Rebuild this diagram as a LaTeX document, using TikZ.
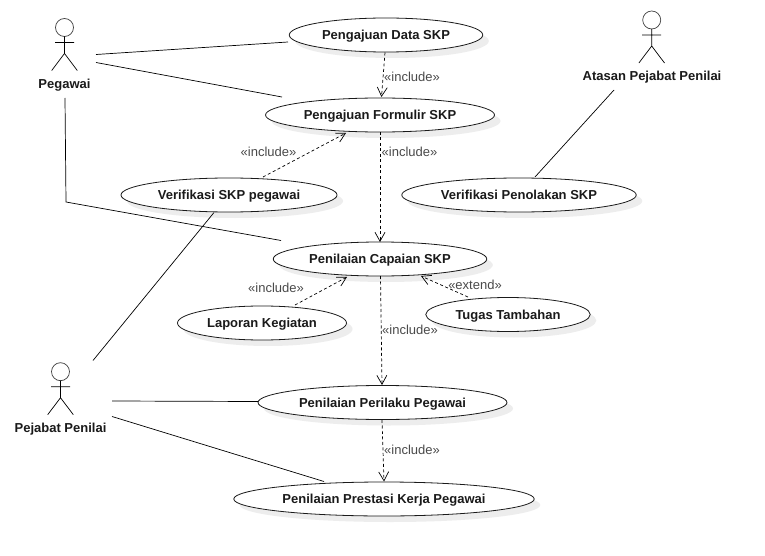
\documentclass[tikz,border=0pt]{standalone}
\usepackage{fontspec}
\setmainfont{Liberation Sans}
\usetikzlibrary{shapes.geometric,arrows.meta,calc,shadows}
\definecolor{inkline}{HTML}{1A1A1A}
\definecolor{labelgray}{HTML}{4A4A4A}
\definecolor{shadowgray}{HTML}{EDEDED}
\tikzset{
  x=1pt,y=-1pt,
  usecase/.style={ellipse,draw=inkline,line width=0.8pt,fill=white,inner sep=0pt,minimum height=34pt,
    font=\fontsize{13}{15}\selectfont\bfseries,text=inkline,text height=9.5pt,text depth=0pt,
    general shadow={fill=shadowgray,shadow xshift=6pt,shadow yshift=-6pt}},
  actorname/.style={inner sep=0pt,font=\fontsize{13}{15}\selectfont\bfseries,text=inkline,text height=9.5pt,text depth=0pt},
  stereo/.style={inner sep=0pt,font=\fontsize{13}{15}\selectfont,text=labelgray},
  assoc/.style={draw=black,line width=0.7pt},
  dep/.style={draw=black,line width=0.7pt,dash pattern=on 3pt off 2.5pt,
    -{Straight Barb[length=9pt,width=10pt,line width=0.7pt]}},
  pics/stickman/.style={code={
    \draw[draw=black!75,line width=0.7pt] (0,0) circle[radius=9];
    \draw[black,line width=0.7pt] (0,9)--(0,26) (-9.5,15)--(9.5,15) (-12.8,43)--(0,26)--(12.8,43);
  }}
}
\begin{document}
\begin{tikzpicture}
\useasboundingbox (0,0) rectangle (765,556);
\fill[white] (0,0) rectangle (765,556);
% use cases
\node[usecase,minimum width=193.5pt] (data) at (386,35) {Pengajuan Data SKP};
\node[usecase,minimum width=229pt] (formulir) at (380,115) {Pengajuan Formulir SKP};
\node[usecase,minimum width=216pt] (verifikasi) at (229,195) {Verifikasi SKP pegawai};
\node[usecase,minimum width=234.5pt] (penolakan) at (519,195) {Verifikasi Penolakan SKP};
\node[usecase,minimum width=213.5pt] (capaian) at (380,259) {Penilaian Capaian SKP};
\node[usecase,minimum width=169pt] (laporan) at (262,323) {Laporan Kegiatan};
\node[usecase,minimum width=164.5pt] (tugas) at (508,314.5) {Tugas Tambahan};
\node[usecase,minimum width=249pt] (perilaku) at (382.5,402.5) {Penilaian Perilaku Pegawai};
\node[usecase,minimum width=300.5pt] (prestasi) at (384,499) {Penilaian Prestasi Kerja Pegawai};
% actors
\pic at (64.5,27.5) {stickman};
\node[actorname] (pegawai) at (64.5,84) {Pegawai};
\pic at (651.7,20) {stickman};
\node[actorname] (atasan) at (652,76) {Atasan Pejabat Penilai};
\pic at (60.5,371.7) {stickman};
\node[actorname] (pejabat) at (60.5,428) {Pejabat Penilai};
% associations
\draw[assoc] ($(pegawai)+(31.5,-29.5)$) -- ($(data)+(-98,7)$);
\draw[assoc] ($(pegawai)+(31.5,-21.5)$) -- ($(formulir)+(-98,-18)$);
\draw[assoc] ($(pegawai)+(0.5,14)$) -- ($(pegawai)+(1.5,118)$) -- ($(capaian)+(-99,-18.5)$);
\draw[assoc] ($(pejabat)+(32.5,-67.5)$) -- ($(verifikasi)+(-15,17.5)$);
\draw[assoc] ($(pejabat)+(51.5,-27)$) -- ($(perilaku)+(-124.5,-1)$);
\draw[assoc] ($(pejabat)+(51.5,-11.5)$) -- ($(prestasi)+(-60,-17.5)$);
\draw[assoc] ($(atasan)+(-38,14)$) -- ($(penolakan)+(16,-18)$);
% dependencies
\draw[dep] ($(data)+(-1,17.5)$) -- ($(formulir)+(1.5,-18)$);
\draw[dep] ($(formulir)+(0,17)$) -- ($(capaian)+(0,-17)$);
\draw[dep] ($(verifikasi)+(34,-18)$) -- ($(formulir)+(-34,18)$);
\draw[dep] ($(laporan)+(33,-18)$) -- ($(capaian)+(-33,18)$);
\draw[dep] ($(tugas)+(-40,-17.5)$) -- ($(capaian)+(41,17)$);
\draw[dep] ($(capaian)+(0.5,17)$) -- ($(perilaku)+(-0.5,-17.5)$);
\draw[dep] ($(perilaku)+(-0.5,17.5)$) -- ($(prestasi)+(0,-17.5)$);
% stereotypes
\node[stereo] (s1) at (412,77) {«include»};
\node[stereo] (s2) at (409.5,152) {«include»};
\node[stereo] (s3) at (268.5,152) {«include»};
\node[stereo] (s4) at (276,288) {«include»};
\node[stereo] (s5) at (475,285) {«extend»};
\node[stereo] (s6) at (410,330) {«include»};
\node[stereo] (s7) at (412,449.5) {«include»};
\end{tikzpicture}
\end{document}
